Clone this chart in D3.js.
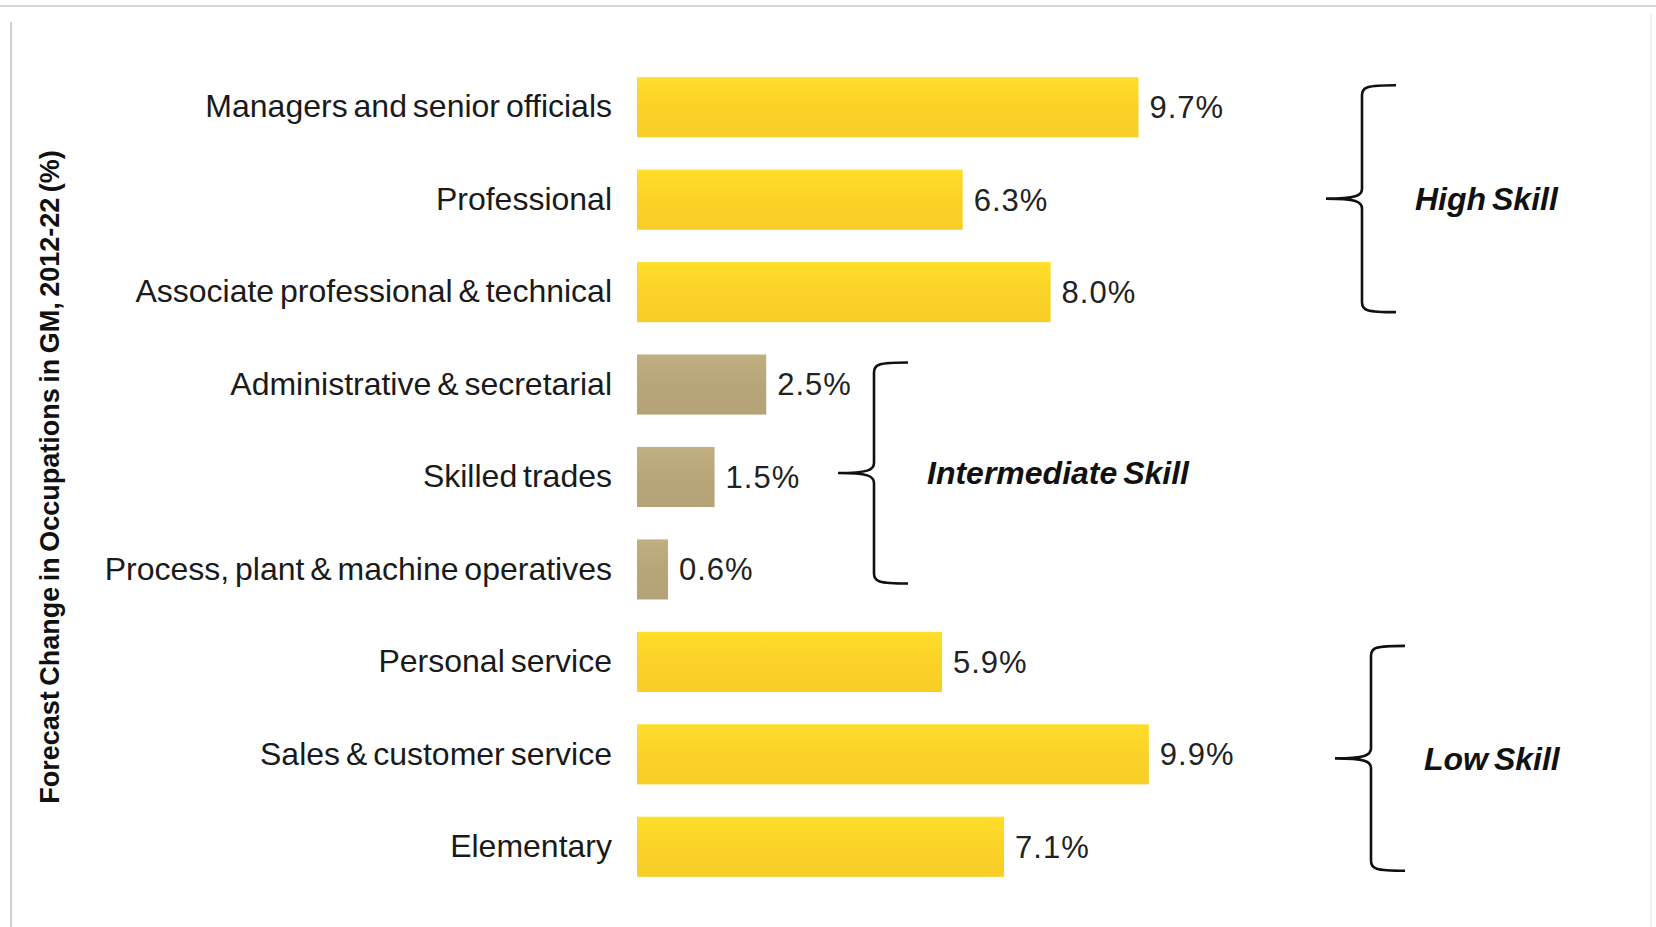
<!DOCTYPE html>
<html>
<head>
<meta charset="utf-8">
<script src="https://cdn.jsdelivr.net/npm/d3@7"></script>
<style>
  html, body { margin: 0; padding: 0; background: #fff; }
  svg { display: block; font-family: "Liberation Sans", Arial, sans-serif; }
</style>
</head>
<body>
<svg id="chart" width="1656" height="927"></svg>
<script>
// occupations, top to bottom
const categories = [
  "Managers and senior officials",
  "Professional",
  "Associate professional & technical",
  "Administrative & secretarial",
  "Skilled trades",
  "Process, plant & machine operatives",
  "Personal service",
  "Sales & customer service",
  "Elementary"
];
const values = [9.7, 6.3, 8.0, 2.5, 1.5, 0.6, 5.9, 9.9, 7.1];
const skillLevel = ["High", "High", "High", "Intermediate", "Intermediate", "Intermediate", "Low", "Low", "Low"];
const groupLabels = ["High Skill", "Intermediate Skill", "Low Skill"];
const groupKeys = ["High", "Intermediate", "Low"];
const axisTitle = "Forecast Change in Occupations in GM, 2012-22 (%)";

const width = 1656, height = 927;
const svg = d3.select("#chart");

// faint frame
svg.append("line").attr("x1", 0).attr("x2", width).attr("y1", 6).attr("y2", 6)
  .attr("stroke", "#d6d6d6").attr("stroke-width", 2);
svg.append("line").attr("x1", 11).attr("x2", 11).attr("y1", 22).attr("y2", height)
  .attr("stroke", "#cfcfcf").attr("stroke-width", 2);
svg.append("line").attr("x1", 1651).attr("x2", 1651).attr("y1", 14).attr("y2", height)
  .attr("stroke", "#f0f0f0").attr("stroke-width", 2);

//scales
const x = d3.scaleLinear().domain([0, 10]).range([637, 1154]);
const y = d3.scaleBand().domain(categories).range([61, 893]).paddingInner(0.35).paddingOuter(0.175);

const colour = { High: "#fbd227", Intermediate: "#b6a679", Low: "#fbd227" };

const defs = svg.append("defs");
groupKeys.forEach(k => {
  const g = defs.append("linearGradient").attr("id", "grad-" + k)
    .attr("x1", 0).attr("x2", 0).attr("y1", 0).attr("y2", 1);
  const c = d3.color(colour[k]);
  g.append("stop").attr("offset", "0%").attr("stop-color", c.brighter(0.15));
  g.append("stop").attr("offset", "50%").attr("stop-color", c);
  g.append("stop").attr("offset", "100%").attr("stop-color", c.darker(0.05));
});

const rows = categories.map((c, i) => ({ cat: c, value: values[i], level: skillLevel[i] }));

// bars
svg.append("g").selectAll("rect")
  .data(rows)
  .join("rect")
  .attr("x", x(0))
  .attr("y", d => y(d.cat))
  .attr("width", d => x(d.value) - x(0))
  .attr("height", y.bandwidth())
  .attr("fill", d => `url(#grad-${d.level})`);

// category labels (axis without line/ticks)
const yAxis = svg.append("g")
  .attr("transform", `translate(${x(0) - 25},0)`)
  .call(d3.axisLeft(y).tickSize(0).tickPadding(0));
yAxis.select(".domain").remove();
yAxis.selectAll("text")
  .attr("font-size", 32)
  .attr("font-family", "Liberation Sans, Arial, sans-serif")
  .attr("letter-spacing", 0)
  .attr("word-spacing", -3)
  .attr("fill", "#1a1a1a");

// value labels
svg.append("g").selectAll("text")
  .data(rows)
  .join("text")
  .attr("x", d => x(d.value) + 11)
  .attr("y", d => y(d.cat) + y.bandwidth() / 2)
  .attr("dy", "0.35em")
  .attr("font-size", 31)
  .attr("letter-spacing", 1)
  .attr("fill", "#222")
  .text(d => d.value.toFixed(1) + "%");

// y axis title
svg.append("text")
  .attr("transform", `translate(50,${(y.range()[0] + y.range()[1]) / 2}) rotate(-90)`)
  .attr("text-anchor", "middle")
  .attr("dy", "0.35em")
  .attr("font-size", 27)
  .attr("font-weight", "bold")
  .attr("letter-spacing", 0)
  .attr("word-spacing", -2)
  .attr("fill", "#111")
  .text(axisTitle);

// curly brackets for skill groups
const bracketX = { High: 1362, Intermediate: 874, Low: 1371 };
function bracePath(bx, top, bottom, tipY) {
  const arm = 34, r = 10, tip = 36;
  return `M${bx + arm},${top} C${bx + 4},${top} ${bx},${top + 2} ${bx},${top + r}` +
    ` L${bx},${tipY - r}` +
    ` C${bx},${tipY - 3} ${bx - 6},${tipY} ${bx - tip},${tipY}` +
    ` C${bx - 6},${tipY} ${bx},${tipY + 3} ${bx},${tipY + r}` +
    ` L${bx},${bottom - r}` +
    ` C${bx},${bottom - 2} ${bx + 4},${bottom} ${bx + arm},${bottom}`;
}

const bracketPad = { High: [8, 10], Intermediate: [8, 16], Low: [14, 6] };

groupKeys.forEach((k, gi) => {
  const members = rows.filter(r => r.level === k);
  const first = members[0].cat, last = members[members.length - 1].cat;
  const top = y(first) + bracketPad[k][0];
  const bottom = y(last) + y.bandwidth() - bracketPad[k][1];
  const mid = (top + bottom) / 2;
  const bx = bracketX[k];
  svg.append("path")
    .attr("d", bracePath(bx, top, bottom, mid))
    .attr("fill", "none")
    .attr("stroke", "#111")
    .attr("stroke-width", 2.6);
  svg.append("text")
    .attr("x", bx + 53)
    .attr("y", mid)
    .attr("dy", "0.35em")
    .attr("font-size", 32)
    .attr("font-weight", "bold")
    .attr("font-style", "italic")
    .attr("letter-spacing", 0)
    .attr("word-spacing", -3)
    .attr("fill", "#111")
    .text(groupLabels[gi]);
});
</script>
</body>
</html>
